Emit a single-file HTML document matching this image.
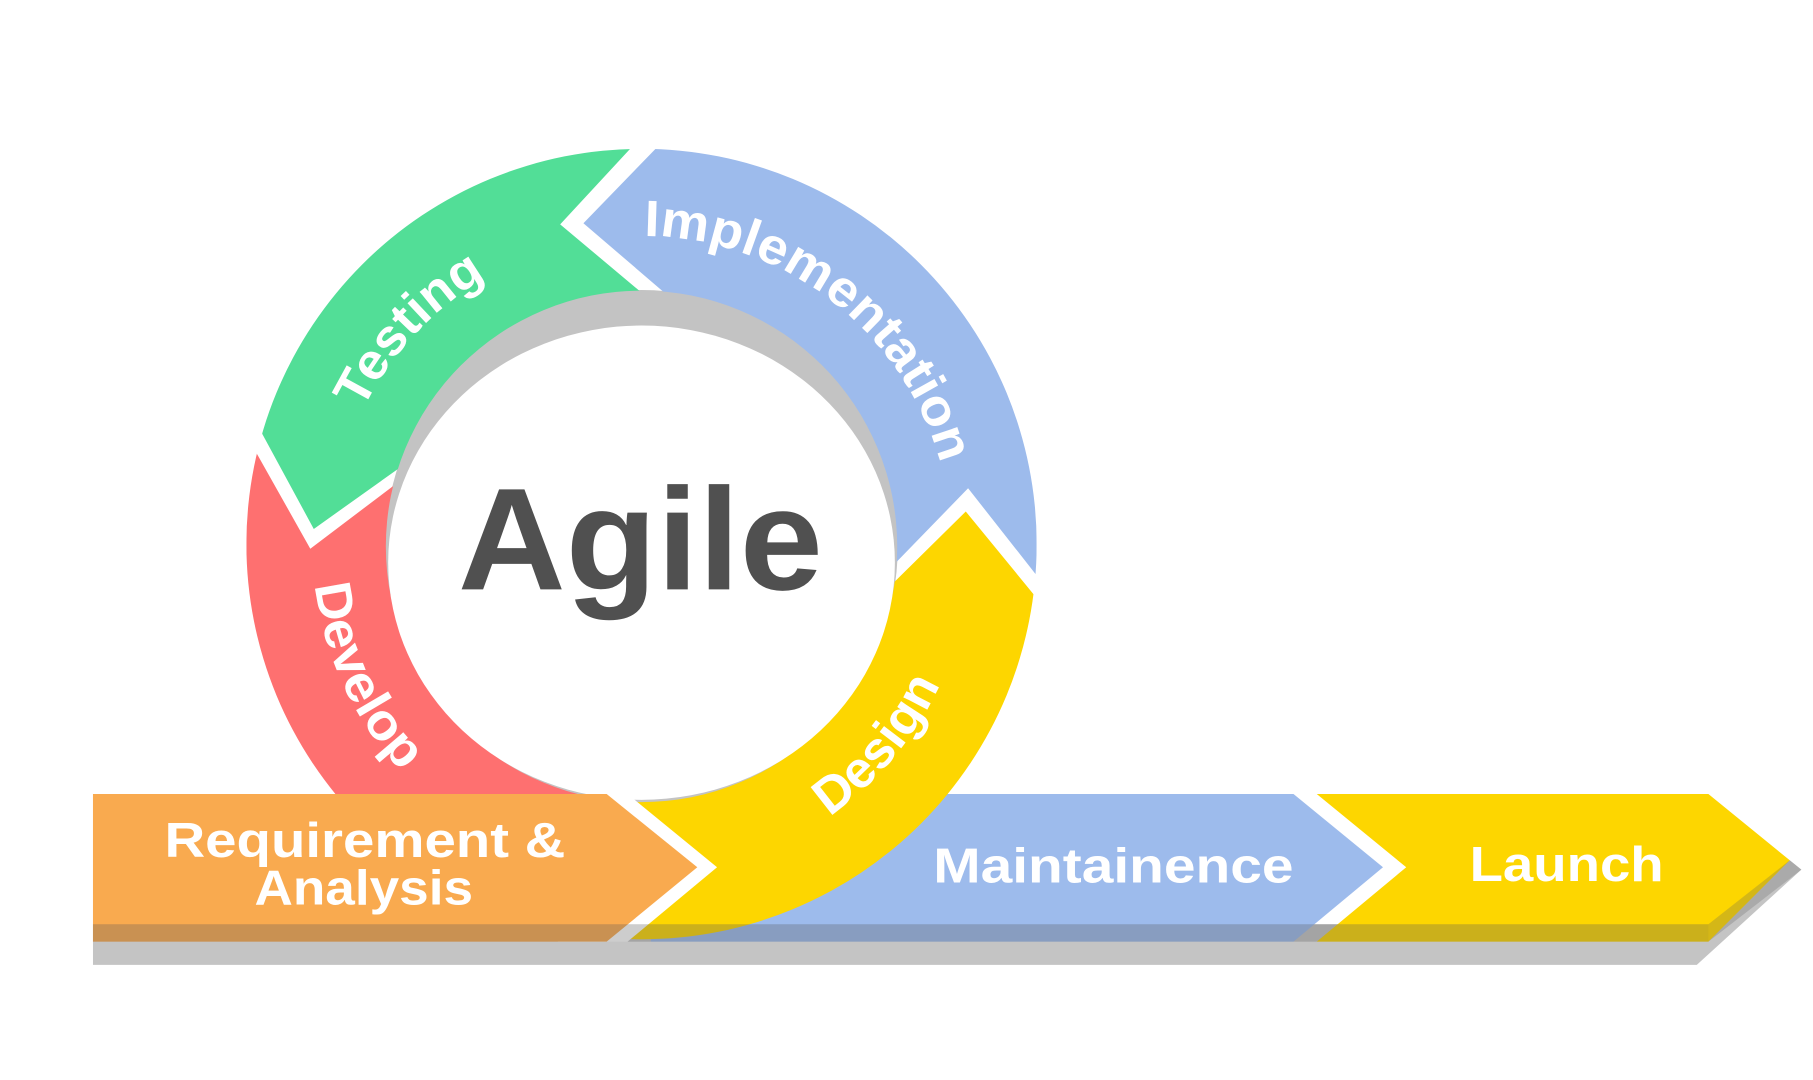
<!DOCTYPE html>
<html><head><meta charset="utf-8"><style>
html,body{margin:0;padding:0;background:#fff;width:1813px;height:1080px;overflow:hidden}
svg{display:block}
text{font-family:"Liberation Sans",sans-serif;font-weight:bold}
</style></head><body>
<svg width="1813" height="1080" viewBox="0 0 1560 929" preserveAspectRatio="none" xmlns="http://www.w3.org/2000/svg">
<defs>
<clipPath id="donut"><path clip-rule="evenodd" d="M212,468 a340,340 0 1,0 680,0 a340,340 0 1,0 -680,0 Z M332,470 a220,220 0 1,0 440,0 a220,220 0 1,0 -440,0 Z"/></clipPath>
<path id="pT" d="M295.3,396.4 A267,267 0 0 1 460.7,219.1"/>
<path id="pI" d="M514.8,205.6 A267,267 0 0 1 817,437.5"/>
<path id="pD" d="M693.5,715.1 A283,283 0 0 0 817.9,566.8"/>
<path id="pV" d="M269,470 A283,283 0 0 0 370.1,686.8"/>
</defs>
<polygon points="80,795 1470,795 1540,740 1550,748 1460,830 80,830" fill="#c4c4c4"/>
<polygon points="560,683 1113,683 1190,746 1113,810 560,810" fill="#9dbbec"/>
<polygon points="1133,683 1470,683 1540,740 1470,810 1133,810 1210,746" fill="#fdd600"/>
<circle cx="552" cy="470" r="220.5" fill="#c3c3c3"/>
<g clip-path="url(#donut)">
<polygon fill="#52de97" points="552,470 350,398 270,455 225,372 170,270 300,30 600,66 545,125 482,193 550,250"/>
<polygon fill="#9dbbec" points="552,470 572,252 502,192 567,125 625,60 1000,60 1000,570 950,570 892,495 833,420 765,490"/>
<polygon fill="#fdd600" points="552,470 762,508 831,440 890,512 960,600 960,900 540,900 540,683"/>
<polygon fill="#fe7070" points="552,470 345,413 267,472 222,392 180,320 100,683 560,683"/>
</g>
<ellipse cx="552" cy="484" rx="218" ry="204" fill="#fff"/>
<polygon points="480,683 540,683 617,746 540,810 480,810" fill="#fff"/>
<polygon points="80,683 522,683 600,746 522,810 80,810" fill="#f9aa4f"/>
<rect x="80" y="795" width="1390" height="15" fill="rgb(90,90,90)" fill-opacity="0.3"/>
<polygon points="1470,795 1540,740 1550,748 1470,810" fill="rgb(90,90,90)" fill-opacity="0.25"/>
<text x="551" y="507" font-size="125" fill="#505050" text-anchor="middle" textLength="314" lengthAdjust="spacingAndGlyphs">Agile</text>
<g font-size="44" fill="#fff">
<text><textPath href="#pT" startOffset="50%" text-anchor="middle" textLength="158" lengthAdjust="spacingAndGlyphs">Testing</textPath></text>
<text><textPath href="#pI" startOffset="50%" text-anchor="middle" textLength="345" lengthAdjust="spacingAndGlyphs">Implementation</textPath></text>
<text><textPath href="#pD" startOffset="50%" text-anchor="middle" textLength="150" lengthAdjust="spacingAndGlyphs">Design</textPath></text>
<text><textPath href="#pV" startOffset="50%" text-anchor="middle" textLength="180" lengthAdjust="spacingAndGlyphs">Develop</textPath></text>
</g>
<g font-size="42" fill="#fff" text-anchor="middle">
<text x="314" y="737" textLength="345" lengthAdjust="spacingAndGlyphs">Requirement &amp;</text>
<text x="313" y="778" textLength="188" lengthAdjust="spacingAndGlyphs">Analysis</text>
<text x="958" y="759" textLength="310" lengthAdjust="spacingAndGlyphs">Maintainence</text>
<text x="1348" y="758" textLength="167" lengthAdjust="spacingAndGlyphs">Launch</text>
</g>
</svg>
</body></html>
